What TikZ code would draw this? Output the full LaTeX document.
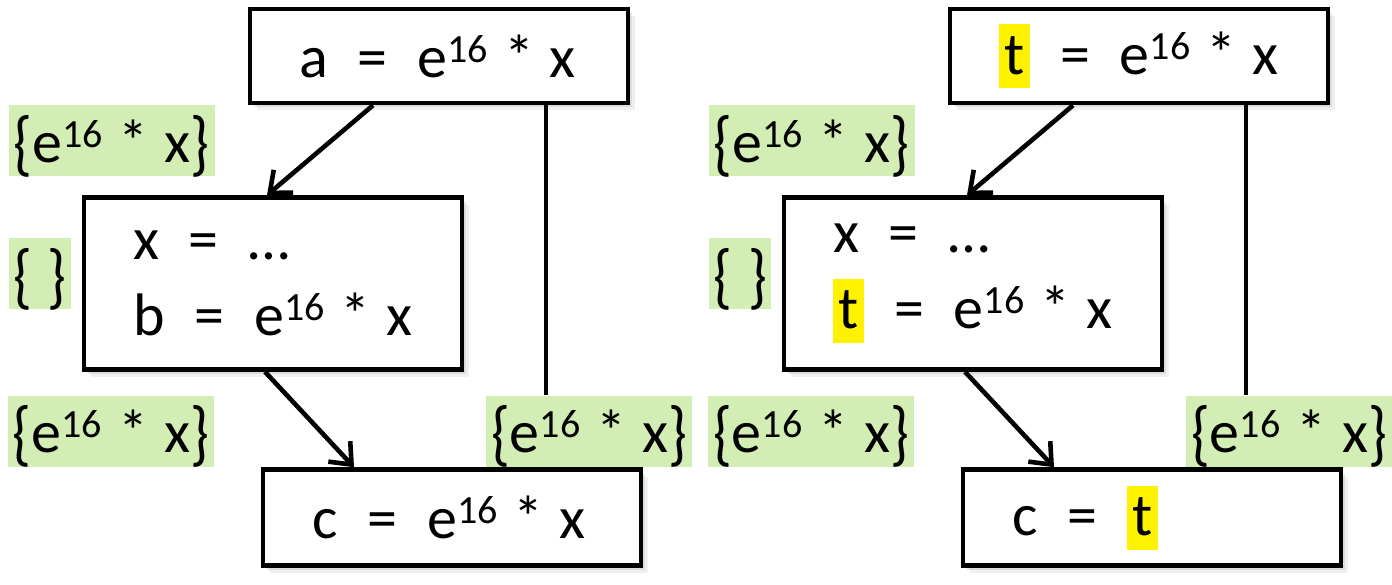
\documentclass[tikz,border=0pt]{standalone}
\usepackage{fontspec}
\setmainfont{Carlito}
\usetikzlibrary{arrows.meta,shadows,positioning}
\definecolor{availgreen}{RGB}{210,238,180}
\newcommand{\sx}[1]{\raisebox{7.5pt}{\fontsize{20}{20}\selectfont #1}}
\newcommand{\s}{\nobreak\hspace{8pt}}
\newcommand{\eq}{\nobreak\hspace{15pt}=\nobreak\hspace{15pt}}
\newcommand{\lb}{\raisebox{-2.5pt}{\scalebox{1}[1.2]{\{}}}
\newcommand{\rb}{\raisebox{-2.5pt}{\scalebox{1}[1.2]{\}}}}
\newcommand{\hl}[1]{{\setlength{\fboxsep}{0pt}\colorbox{yellow}{\rule[-7pt]{0pt}{32pt}\hspace{2.5pt}#1\hspace{3pt}}}}
\tikzset{
every node/.style={font=\fontsize{30}{38}\selectfont},
style1/.style= {draw,line width=2.3pt,fill=white,text width=140pt,inner xsep=24.5pt,inner ysep=0pt,align=left,
  drop shadow={shadow xshift=3.5pt,shadow yshift=-3.5pt,opacity=0.12},
  drop shadow={shadow xshift=2pt,shadow yshift=-2pt,opacity=0.18}},
style2/.style= {fill=availgreen,inner sep=0pt,text height=28.5pt,text depth=7pt,minimum width=103pt,align=center},
link/.style= {line width=2.3pt,-{Straight Barb[length=9pt,width=15pt,line width=2.3pt]}}
}

\begin{document}
\begin{tikzpicture}[x=0.5pt,y=-0.5pt]
\useasboundingbox (0,0) rectangle (1392,584);

% left: before, right: after the rewrite
\foreach \dx/\g/\ta/\tb/\tc in {0/l/a/b/{e\sx{16}\s*\s x},700/r/\hl{t}/\hl{t}/\hl{t}}{
  \node[style1,minimum height=47pt] (\g1) at (439+\dx,56) {\ta\eq e\sx{16}\s*\s x};
  \node[style1,minimum height=86pt] (\g2) at (273+\dx,283.5) {x\eq …\\ \tb\eq e\sx{16}\s*\s x};
  \node[style1,minimum height=48pt] (\g3) at (452+\dx,517.5) {c\eq \tc};

  % the available sets
  \node[style2] (\g11) at (111.5+\dx,140.5) {\lb e\sx{16}\s*\s x\rb};
  \node[style2,minimum width=31pt] (\g12) at (40+\dx,273.5) {\lb\s\rb};
  \node[style2] (\g13) at (111+\dx,431) {\lb e\sx{16}\s*\s x\rb};
  \node[style2] (\g14) at (589+\dx,431) {\lb e\sx{16}\s*\s x\rb};

  \draw[link] ([xshift=-33pt]\g1.south) -- ([xshift=-3pt]\g2.north);
  \draw[link] ([xshift=-4pt]\g2.south) -- ([xshift=-49pt]\g3.north);
  \draw[line width=2pt] ([xshift=53.5pt]\g1.south) -- ([xshift=53.5pt]\g1.south |- \g14.north);
}
\end{tikzpicture}
\end{document}
